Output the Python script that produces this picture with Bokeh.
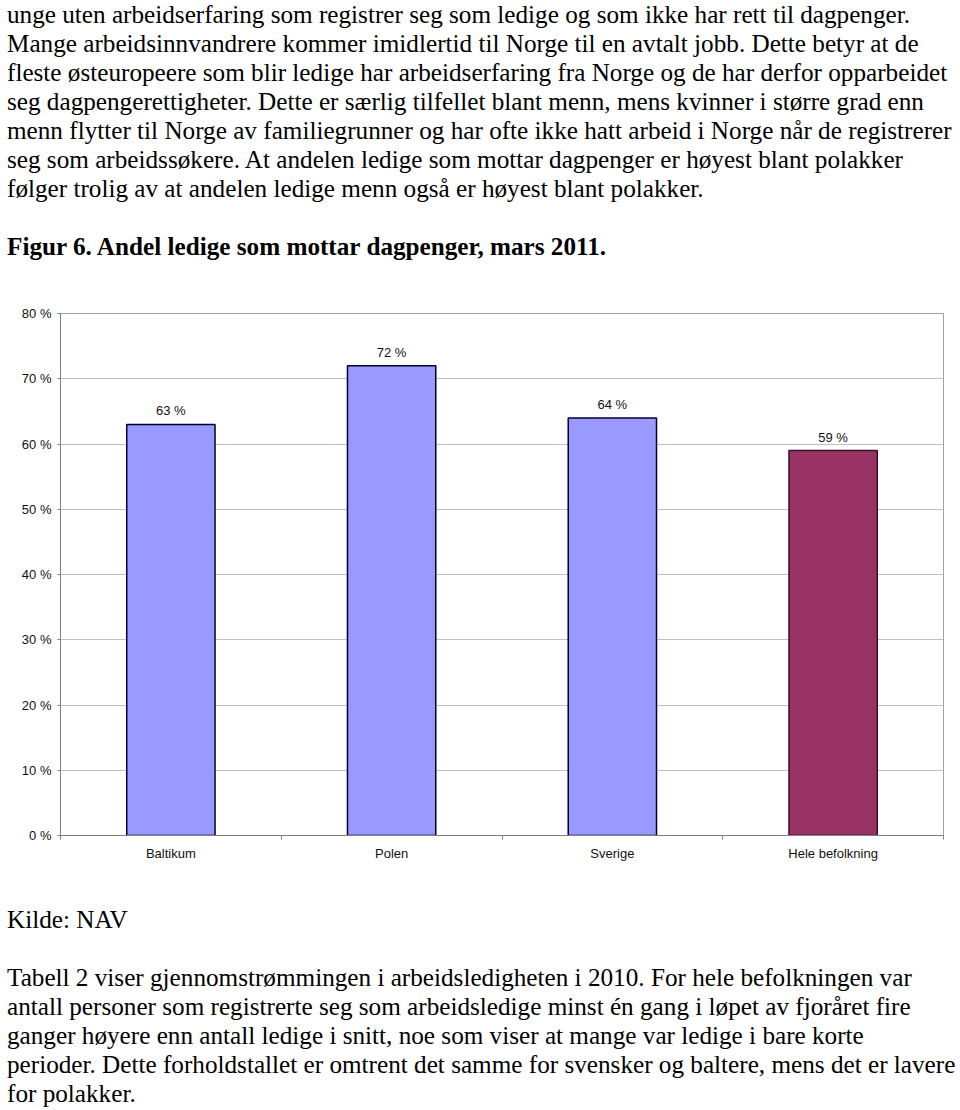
from bokeh.plotting import figure
from bokeh.models import Div, ColumnDataSource, LabelSet, FixedTicker, PrintfTickFormatter
from bokeh.layouts import column
from bokeh.core.properties import value
from bokeh.embed import file_html
from bokeh.resources import INLINE

# ---------------- data ----------------
categories = ["Baltikum", "Polen", "Sverige", "Hele befolkning"]
values = [63, 72, 64, 59]
value_labels = ["63 %", "72 %", "64 %", "59 %"]
bar_colors = ["#9999FF", "#9999FF", "#9999FF", "#993366"]
edge_colors = ["#000033", "#000033", "#000033", "#3a1028"]
y_ticks = [0, 10, 20, 30, 40, 50, 60, 70, 80]

top_lines = [
    "unge uten arbeidserfaring som registrer seg som ledige og som ikke har rett til dagpenger.",
    "Mange arbeidsinnvandrere kommer imidlertid til Norge til en avtalt jobb. Dette betyr at de",
    "fleste østeuropeere som blir ledige har arbeidserfaring fra Norge og de har derfor opparbeidet",
    "seg dagpengerettigheter. Dette er særlig tilfellet blant menn, mens kvinner i større grad enn",
    "menn flytter til Norge av familiegrunner og har ofte ikke hatt arbeid i Norge når de registrerer",
    "seg som arbeidssøkere. At andelen ledige som mottar dagpenger er høyest blant polakker",
    "følger trolig av at andelen ledige menn også er høyest blant polakker.",
]
caption = "Figur 6. Andel ledige som mottar dagpenger, mars 2011."
source_note = "Kilde: NAV"
bottom_lines = [
    "Tabell 2 viser gjennomstrømmingen i arbeidsledigheten i 2010. For hele befolkningen var",
    "antall personer som registrerte seg som arbeidsledige minst én gang i løpet av fjoråret fire",
    "ganger høyere enn antall ledige i snitt, noe som viser at mange var ledige i bare korte",
    "perioder. Dette forholdstallet er omtrent det samme for svensker og baltere, mens det er lavere",
    "for polakker.",
]

# ---------------- text blocks ----------------
FONT = "'Liberation Serif', 'Times New Roman', serif"
base_style = (f"font-family:{FONT};font-size:25.2px;line-height:29px;color:#000;"
              "white-space:nowrap;padding-left:7px;")

top_html = (f"<div style=\"{base_style}position:relative;top:0px;\">"
            + "<br>".join(top_lines)
            + "<br>&nbsp;<br>"
            + f"<b>{caption}</b></div>")
top_div = Div(text=top_html, width=960, height=280, margin=0)

bottom_html = (f"<div style=\"{base_style}position:relative;top:-2px;\">"
               + source_note + "<br>&nbsp;<br>"
               + "<br>".join(bottom_lines) + "</div>")
bottom_div = Div(text=bottom_html, width=960, height=203, margin=0)

# ---------------- chart ----------------
xs = [i + 0.5 for i in range(len(categories))]
src = ColumnDataSource(dict(x=xs, top=values, label=value_labels,
                            fill=bar_colors, edge=edge_colors))

p = figure(width=960, height=627, x_range=(0, len(categories)), y_range=(0, 80),
           output_backend="svg", toolbar_location=None,
           min_border_left=60, min_border_right=17, min_border_top=33, min_border_bottom=72)
p.margin = 0

p.vbar(x="x", top="top", bottom=0, width=0.4, source=src,
       fill_color="fill", line_color="edge", line_width=1.5)

p.add_layout(LabelSet(x="x", y="top", text="label", source=src,
                      text_align="center", text_baseline="bottom", y_offset=6,
                      text_font=value("Liberation Sans"), text_font_size="13px",
                      text_color="#111111"))

# y axis
p.yaxis.ticker = FixedTicker(ticks=y_ticks)
p.yaxis.formatter = PrintfTickFormatter(format="%d %%")
p.yaxis.major_label_text_font = "Liberation Sans"
p.yaxis.major_label_text_font_size = "13px"
p.yaxis.major_label_text_color = "#111111"
p.yaxis.major_tick_out = 3
p.yaxis.major_tick_in = 0
p.yaxis.minor_tick_line_color = None
p.yaxis.major_label_standoff = 6
p.yaxis.axis_line_color = "#808080"
p.yaxis.major_tick_line_color = "#808080"

# x axis: labels at category centres, ticks at boundaries
p.xaxis.ticker = FixedTicker(ticks=xs, minor_ticks=list(range(len(categories) + 1)))
p.xaxis.major_label_overrides = {x: c for x, c in zip(xs, categories)}
p.xaxis.major_label_text_font = "Liberation Sans"
p.xaxis.major_label_text_font_size = "13px"
p.xaxis.major_label_text_color = "#111111"
p.xaxis.major_tick_line_color = None
p.xaxis.minor_tick_out = 4
p.xaxis.minor_tick_in = 0
p.xaxis.minor_tick_line_color = "#808080"
p.xaxis.major_label_standoff = 4
p.xaxis.axis_line_color = "#808080"

p.xgrid.grid_line_color = None
p.ygrid.ticker = FixedTicker(ticks=y_ticks)
p.ygrid.grid_line_color = "#c0c0c0"
p.ygrid.grid_line_width = 1
p.outline_line_color = "#a0a0a0"
p.outline_line_width = 1

layout = column(top_div, p, bottom_div, spacing=0)
open("out.html", "w").write(file_html(layout, INLINE))
